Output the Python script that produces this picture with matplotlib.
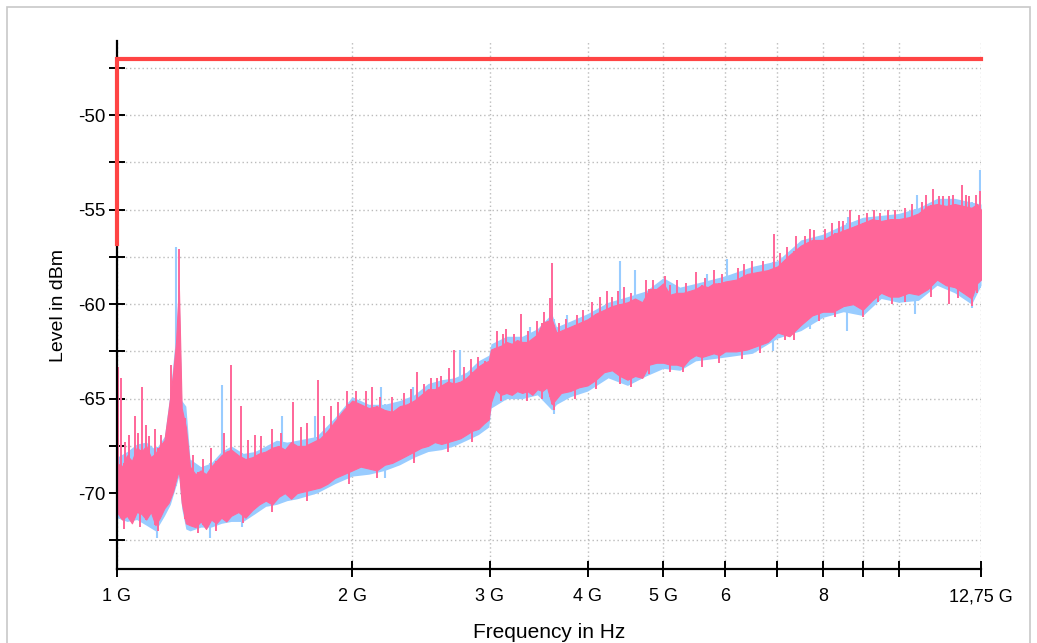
import numpy as np
import matplotlib
matplotlib.use("Agg")
import matplotlib.pyplot as plt
from matplotlib.patches import Rectangle

plt.rcParams['font.family'] = ['Liberation Sans', 'DejaVu Sans']

# frequency grid in GHz and the pink (max hold) band, dBm
freq = [1.000, 1.015, 1.03, 1.045, 1.06, 1.075, 1.09, 1.105, 1.12, 1.135,
        1.15, 1.165, 1.18, 1.19, 1.20, 1.21, 1.225, 1.24, 1.26, 1.28,
        1.30, 1.32, 1.34, 1.36, 1.38, 1.40, 1.43, 1.46, 1.49, 1.52,
        1.55, 1.58, 1.61, 1.64, 1.67, 1.70, 1.74, 1.78, 1.82, 1.86,
        1.90, 1.95, 2.00,
        2.05, 2.10, 2.15, 2.20, 2.25, 2.30, 2.35, 2.40, 2.45, 2.50,
        2.55, 2.60, 2.65, 2.70, 2.75, 2.80, 2.85, 2.90, 2.95, 2.99, 3.01,
        3.05, 3.10, 3.15, 3.20, 3.25, 3.30, 3.35, 3.40, 3.45, 3.50,
        3.55, 3.60, 3.65, 3.70, 3.80, 3.90, 4.00, 4.10, 4.20, 4.30, 4.40, 4.50,
        4.60, 4.70, 4.80, 4.90, 5.00, 5.10, 5.20, 5.30, 5.40, 5.50,
        5.60, 5.70, 5.80, 5.90, 6.00, 6.20, 6.40, 6.60, 6.80, 7.00,
        7.25, 7.50, 7.75, 8.00, 8.25, 8.50, 8.75, 9.00, 9.25, 9.50,
        9.75, 10.0, 10.3, 10.6, 10.9, 11.2, 11.5, 11.8, 12.1, 12.4, 12.6, 12.75]

pink_lo = [-71.0, -71.4, -71.2, -71.6, -71.0, -71.1, -71.4, -71.0, -71.7, -71.3,
           -70.8, -70.5, -69.9, -69.3, -68.8, -70.5, -71.6, -71.7, -71.8, -71.5,
           -71.9, -71.4, -71.6, -71.3, -71.5, -71.2, -71.0, -71.3, -70.9, -70.6,
           -70.4, -70.6, -70.2, -70.0, -70.3, -70.0, -69.9, -69.8, -69.7, -69.5,
           -69.2, -69.0, -68.8,
           -68.6, -68.7, -68.8, -68.5, -68.4, -68.2, -68.0, -67.8, -67.6, -67.5,
           -67.3, -67.4, -67.3, -67.2, -67.1, -66.9, -66.7, -66.6, -66.3, -66.1, -65.2,
           -64.5, -64.8, -64.7, -64.8, -64.6, -64.7, -64.6, -64.8, -64.5, -64.6,
           -64.4, -65.3, -65.0, -64.7, -64.6, -64.4, -64.3, -64.0, -63.6, -63.5, -63.8, -64.0,
           -63.8, -63.9, -63.2, -63.1, -63.1, -63.2, -63.2, -63.3, -62.9, -62.7,
           -62.8, -62.7, -62.6, -62.7, -62.5, -62.5, -62.4, -62.2, -62.0, -61.5,
           -61.7, -61.1, -60.6, -60.4, -60.4, -60.1, -60.0, -60.3, -59.8, -59.4,
           -59.6, -59.6, -59.4, -59.5, -59.2, -58.7, -59.0, -59.1, -59.4, -59.7, -58.9, -58.7]

pink_hi = [-68.4, -68.6, -68.0, -68.3, -67.6, -67.8, -67.5, -68.1, -67.9, -67.5,
           -67.2, -65.5, -63.6, -62.0, -59.0, -65.5, -66.5, -68.6, -69.0, -68.8,
           -69.0, -68.6, -68.3, -68.0, -67.8, -67.7, -68.0, -68.2, -68.1, -67.9,
           -67.8, -67.6, -67.5, -67.7, -67.3, -67.5, -67.5, -67.3, -67.1, -66.7,
           -66.2, -65.6, -65.1,
           -65.3, -65.5, -65.4, -65.6, -65.7, -65.4, -65.3, -65.1, -64.8, -64.5,
           -64.5, -64.3, -64.1, -64.2, -64.1, -63.9, -63.6, -63.3, -63.1, -63.0, -62.4,
           -62.3, -62.2, -62.0, -62.1, -61.9, -62.0, -62.0, -61.8, -61.6, -61.0,
           -60.9, -60.8, -61.5, -61.4, -61.2, -61.0, -60.8, -60.5, -60.3, -60.1, -60.0, -59.9,
           -59.7, -59.9, -59.2, -59.2, -58.9, -59.5, -59.4, -59.4, -59.3, -59.2,
           -59.0, -59.1, -58.9, -58.9, -58.8, -58.7, -58.4, -58.3, -58.2, -58.0,
           -57.4, -56.9, -56.6, -56.6, -56.3, -56.1, -55.9, -55.7, -55.5, -55.6,
           -55.5, -55.5, -55.4, -55.2, -54.8, -54.7, -54.8, -54.7, -54.8, -54.9, -54.7, -55.0]

pink_spike_f = [1.002, 1.012, 1.025, 1.035, 1.054, 1.065, 1.076, 1.09, 1.10, 1.12,
                1.14, 1.172, 1.200, 1.222, 1.25, 1.29, 1.32, 1.37, 1.40, 1.44,
                1.47, 1.50, 1.53, 1.58, 1.62, 1.68, 1.72, 1.75, 1.81, 1.84,
                1.88, 1.92, 1.97, 2.02, 2.08, 2.12, 2.17, 2.25, 2.33, 2.38,
                2.42, 2.47, 2.52, 2.57, 2.60, 2.66, 2.70, 2.78, 2.84, 2.90,
                2.96, 3.06, 3.12, 3.15, 3.22, 3.29, 3.36, 3.45, 3.52, 3.58,
                3.60, 3.68, 3.75, 3.88, 3.95, 4.05, 4.15, 4.24, 4.30, 4.37,
                4.45, 4.55, 4.75, 4.85, 5.02, 5.10, 5.20, 5.35, 5.50, 5.65,
                5.80, 5.95, 6.24, 6.35, 6.50, 6.70, 6.93, 7.05, 7.20, 7.40,
                7.60, 7.70, 7.80, 8.05, 8.21, 8.40, 8.50, 8.67, 8.90, 9.10,
                9.30, 9.48, 9.70, 9.90, 10.2, 10.4, 10.7, 10.84, 11.06, 11.25,
                11.4, 11.6, 11.75, 12.07, 12.2, 12.3, 12.55, 12.70]
pink_spike_top = [-63.3, -63.9, -67.3, -66.9, -65.9, -66.8, -64.4, -66.4, -67.0, -66.6,
                  -66.9, -63.2, -57.1, -66.0, -68.0, -68.2, -67.6, -66.8, -63.2, -65.4,
                  -67.2, -66.9, -67.0, -66.6, -66.8, -65.2, -66.5, -66.3, -64.0, -65.9,
                  -65.4, -65.2, -64.6, -64.6, -64.6, -64.4, -64.9, -64.9, -64.7, -64.5,
                  -63.6, -64.2, -63.9, -63.9, -63.8, -63.4, -62.4, -63.3, -62.9, -62.8,
                  -63.0, -61.4, -61.6, -61.3, -61.6, -60.5, -61.4, -60.9, -60.4, -59.7,
                  -57.8, -61.0, -60.8, -60.6, -60.3, -59.9, -59.6, -59.3, -59.6, -59.3,
                  -59.1, -59.4, -58.7, -58.7, -58.5, -59.0, -58.7, -58.9, -58.3, -58.6,
                  -58.2, -58.4, -58.1, -57.9, -57.7, -57.7, -56.3, -57.3, -57.0, -56.4,
                  -56.4, -56.0, -56.1, -56.0, -55.7, -55.6, -55.6, -55.0, -55.3, -55.2,
                  -55.0, -55.2, -55.0, -55.0, -54.9, -54.7, -54.6, -54.2, -53.9, -54.3,
                  -54.3, -54.3, -54.2, -53.7, -54.2, -54.3, -54.2, -54.0]

pink_dip_f = [1.02, 1.07, 1.13, 1.27, 1.34, 1.45, 1.58, 1.75, 1.98, 2.15,
              2.40, 2.65, 2.85, 3.10, 3.35, 3.50, 3.62, 3.85, 4.10, 4.40,
              4.55, 4.80, 5.10, 5.30, 5.60, 5.90, 6.30, 6.65, 7.15, 7.35,
              7.90, 8.30, 9.00, 9.40, 9.80, 10.2, 11.0, 11.6, 11.9, 12.4, 12.6]
pink_dip_bot = [-71.9, -71.8, -72.0, -72.1, -72.0, -71.6, -71.0, -70.4, -69.5, -69.2,
                -68.4, -67.8, -67.3, -65.1, -65.1, -65.0, -65.6, -65.0, -64.5, -64.2,
                -64.4, -63.7, -63.6, -63.6, -63.3, -63.1, -62.9, -62.6, -61.9, -61.9,
                -60.9, -60.7, -60.7, -59.9, -60.0, -59.9, -59.6, -60.0, -59.7, -60.1, -59.4]

# blue trace, slightly wider than the pink one
blue_f = [1.00, 1.03, 1.06, 1.09, 1.12, 1.15, 1.17, 1.19, 1.20, 1.21,
          1.225, 1.24, 1.28, 1.32, 1.36, 1.40, 1.45, 1.50, 1.55, 1.60,
          1.65, 1.70, 1.80, 1.90, 2.00, 2.10, 2.20, 2.30, 2.40, 2.50,
          2.60, 2.70, 2.80, 2.90, 2.99, 3.01, 3.15, 3.30, 3.45, 3.60,
          3.65, 3.80, 4.00, 4.25, 4.50, 4.75, 5.00, 5.25, 5.50, 5.75,
          6.00, 6.50, 7.00, 7.50, 8.00, 8.50, 9.00, 9.50, 10.0, 10.6,
          11.2, 11.8, 12.4, 12.75]
blue_lo = [-71.3, -71.5, -71.4, -71.7, -72.0, -71.2, -70.6, -69.6, -69.1, -70.8,
           -71.9, -72.0, -71.8, -71.8, -71.6, -71.5, -71.5, -71.1, -70.7, -70.6,
           -70.4, -70.3, -70.0, -69.5, -69.1, -69.0, -68.8, -68.5, -68.1, -67.8,
           -67.7, -67.5, -67.2, -66.9, -66.5, -65.5, -65.0, -65.0, -64.8, -65.6,
           -65.3, -64.9, -64.6, -63.9, -64.3, -63.8, -63.4, -63.5, -63.0, -62.9,
           -62.8, -62.6, -61.8, -61.4, -60.7, -60.4, -60.6, -59.7, -59.9, -59.8,
           -59.0, -59.4, -60.0, -59.0]
blue_hi = [-68.1, -67.8, -67.4, -67.3, -67.7, -67.0, -64.6, -61.5, -58.7, -65.1,
           -65.4, -68.2, -68.6, -68.4, -67.8, -67.5, -67.9, -67.8, -67.5, -67.2,
           -67.3, -67.2, -67.0, -66.0, -64.9, -65.3, -65.3, -65.1, -64.8, -64.2,
           -64.0, -63.9, -63.6, -63.0, -62.7, -62.1, -61.7, -61.7, -61.3, -60.5,
           -61.2, -60.9, -60.5, -59.9, -59.6, -59.3, -58.6, -59.1, -58.9, -58.7,
           -58.5, -58.0, -57.7, -56.6, -56.3, -55.8, -55.4, -55.3, -55.2, -54.9,
           -54.4, -54.4, -54.6, -54.7]

blue_spike_f = [1.19, 1.363, 1.626, 1.79, 2.18, 2.39, 2.75, 3.38, 3.76, 4.40,
                4.60, 5.69, 6.03, 8.62, 10.56, 12.70]
blue_spike_top = [-57.0, -64.3, -65.9, -65.9, -64.4, -64.4, -62.4, -61.2, -60.6, -57.7,
                  -58.2, -58.4, -57.6, -55.4, -54.2, -52.9]
blue_dip_f = [1.125, 1.315, 1.445, 2.20, 3.62, 6.90, 7.70, 8.60, 10.5, 12.4]
blue_dip_bot = [-72.4, -72.4, -71.8, -69.2, -65.8, -62.5, -61.3, -61.4, -60.5, -60.2]

# limit line
limit_f = [1.0, 1.0, 12.75]
limit_db = [-56.8, -47.05, -47.05]

xticks = [1, 2, 3, 4, 5, 6, 7, 8, 9, 10, 12.75]
xlabels = ['1 G', '2 G', '3 G', '4 G', '5 G', '6', '', '8', '', '', '12,75 G']
yticks = [-47.5, -50, -52.5, -55, -57.5, -60, -62.5, -65, -67.5, -70, -72.5]
ylabels = ['', '-50', '', '-55', '', '-60', '', '-65', '', '-70', '']

pink = '#ff6699'
blue = '#99ccff'
red = '#ff4444'

fig = plt.figure(figsize=(10.37, 6.43), dpi=100)
ax = fig.add_axes([0.1128, 0.115, 0.8332, 0.821])

ax.set_xscale('log')

# blue trace
ax.fill_between(blue_f, blue_lo, blue_hi, color=blue, lw=0, zorder=2)
ax.vlines(blue_spike_f, np.interp(blue_spike_f, blue_f, blue_lo), blue_spike_top,
          color=blue, lw=1.5, zorder=2)
ax.vlines(blue_dip_f, blue_dip_bot, np.interp(blue_dip_f, blue_f, blue_hi),
          color=blue, lw=1.5, zorder=2)

# pink trace
ax.fill_between(freq, pink_lo, pink_hi, color=pink, lw=0.8, edgecolor=pink, zorder=3)
ax.vlines(pink_spike_f, np.interp(pink_spike_f, freq, pink_lo), pink_spike_top,
          color=pink, lw=1.4, zorder=3)
ax.vlines(pink_dip_f, pink_dip_bot, np.interp(pink_dip_f, freq, pink_hi),
          color=pink, lw=1.4, zorder=3)

ax.plot(limit_f, limit_db, color=red, lw=3, zorder=7, clip_on=False,
        solid_joinstyle='miter')

ax.set_xlim(1, 12.75)
ax.set_ylim(-74.02, -46.08)

ax.xaxis.set_major_locator(matplotlib.ticker.FixedLocator(xticks))
ax.xaxis.set_major_formatter(matplotlib.ticker.FixedFormatter(xlabels))
ax.xaxis.set_minor_locator(matplotlib.ticker.NullLocator())
ax.set_yticks(yticks)
ax.set_yticklabels(ylabels)

ax.grid(True, which='major', color='#bbbbbb', linestyle=(0, (1, 2)), lw=1, zorder=0)
ax.set_axisbelow(True)

for s in ['top', 'right']:
    ax.spines[s].set_visible(False)
for s in ['left', 'bottom']:
    ax.spines[s].set_linewidth(1.6)
    ax.spines[s].set_zorder(6)

ax.tick_params(axis='both', direction='inout', length=12, width=1.4, labelsize=13, colors='black')
ax.tick_params(axis='x', pad=8)
ax.tick_params(axis='y', pad=2, labelsize=13.5)

ax.set_ylabel('Level in dBm', fontsize=14)
ax.yaxis.set_label_coords(-0.058, 0.5)
ax.set_xlabel('Frequency in Hz', fontsize=15)
ax.xaxis.set_label_coords(0.5, -0.102)

# outer frame of the window
fig.patches.append(Rectangle((7 / 1037, -0.05), 1023 / 1037, 1.05 - 7 / 643,
                             transform=fig.transFigure, fill=False,
                             edgecolor='#c8c8c8', lw=1.2))

fig.savefig('out.png', dpi=100)
